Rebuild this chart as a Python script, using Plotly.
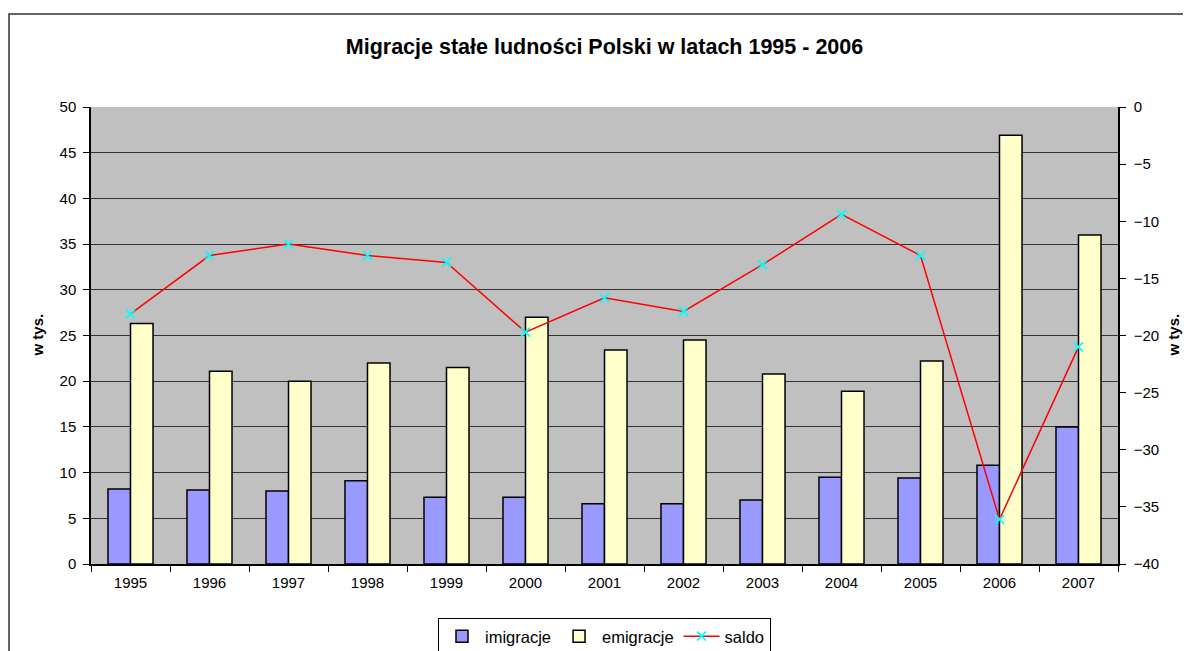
import plotly.graph_objects as go

years = ["1995", "1996", "1997", "1998", "1999", "2000", "2001",
         "2002", "2003", "2004", "2005", "2006", "2007"]
imigracje = [8.2, 8.1, 8.0, 9.1, 7.3, 7.3, 6.6, 6.6, 7.0, 9.5, 9.4, 10.8, 15.0]
emigracje = [26.3, 21.1, 20.0, 22.0, 21.5, 27.0, 23.4, 24.5, 20.8, 18.9, 22.2, 46.9, 36.0]
saldo = [-18.1, -13.0, -12.0, -13.0, -13.6, -19.7, -16.7, -17.9, -13.8, -9.4, -13.0, -36.1, -21.0]

FONT = "Arial, Liberation Sans, sans-serif"

# page is drawn with an 8px body offset, so margins are shifted by that much
L, R, T, B = 83, 81, 99, 95
PW, PH = 1191 - L - R, 651 - T - B

fig = go.Figure()

fig.add_trace(go.Bar(
    x=years, y=imigracje, name="imigracje",
    marker=dict(color="#9999FF", line=dict(color="black", width=1.5)),
))
fig.add_trace(go.Bar(
    x=years, y=emigracje, name="emigracje",
    marker=dict(color="#FFFFCC", line=dict(color="black", width=1.5)),
))
fig.add_trace(go.Scatter(
    x=years, y=saldo, name="saldo", yaxis="y2", mode="lines+markers",
    line=dict(color="#FF0000", width=1.5),
    marker=dict(symbol="x-thin", size=9, line=dict(color="#00FFFF", width=1.8), color="#00FFFF"),
))

fig.update_layout(
    width=1191, height=651,
    margin=dict(l=L, r=R, t=T, b=B),
    paper_bgcolor="white",
    plot_bgcolor="#C0C0C0",
    font=dict(family=FONT, size=15, color="black"),
    barmode="group",
    bargap=0.43,
    bargroupgap=0,
    showlegend=True,
    title=dict(
        text="<b>Migracje stałe ludności Polski w latach 1995 - 2006</b>",
        x=(L + PW / 2) / 1191, xanchor="center", y=(651 - 38) / 651, yanchor="middle",
        font=dict(family=FONT, size=21.5, color="black"),
    ),
    legend=dict(
        orientation="h", x=0.5, xanchor="center",
        yref="container", y=(651 - 610) / 651, yanchor="top",
        bordercolor="black", borderwidth=1, bgcolor="white",
        font=dict(family=FONT, size=16.5), itemwidth=36,
    ),
    xaxis=dict(
        type="category", range=[-0.5, 12.5], tickson="boundaries",
        ticks="outside", ticklen=6, tickcolor="black", ticklabelstandoff=4,
        showline=True, linecolor="black", linewidth=1.5,
        showgrid=False, tickfont=dict(size=15),
    ),
    yaxis=dict(
        range=[0, 50], dtick=5, ticks="outside", ticklen=6, tickcolor="black",
        ticklabelstandoff=4,
        showline=True, linecolor="black", linewidth=1.5,
        showgrid=True, gridcolor="#333333", gridwidth=1,
        zeroline=False, tickfont=dict(size=15),
    ),
    yaxis2=dict(
        range=[-40, 0], dtick=5, overlaying="y", side="right",
        ticks="outside", ticklen=6, tickcolor="black", ticklabelstandoff=5,
        showline=True, linecolor="black", linewidth=1.5,
        showgrid=False, zeroline=False, tickfont=dict(size=15),
    ),
    shapes=[dict(
        type="rect", xref="paper", yref="paper",
        x0=(1 - L) / PW, x1=1.2, y0=-0.4, y1=(651 - B - 6) / PH,
        line=dict(color="#333333", width=1.5), fillcolor="rgba(0,0,0,0)",
        layer="below",
    )],
    annotations=[
        dict(text="<b>w tys.</b>", xref="paper", yref="paper",
             x=(29 - L) / PW, y=0.5, xanchor="center", yanchor="middle",
             textangle=-90, showarrow=False, font=dict(family=FONT, size=15)),
        dict(text="<b>w tys.</b>", xref="paper", yref="paper",
             x=(1165 - L) / PW, y=0.5, xanchor="center", yanchor="middle",
             textangle=-90, showarrow=False, font=dict(family=FONT, size=15)),
    ],
)

fig.write_html("out.html")
